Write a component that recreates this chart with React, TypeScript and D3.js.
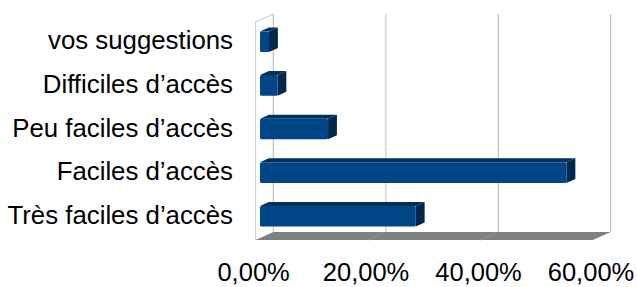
import * as d3 from "d3";

const categories = [
  "vos suggestions",
  "Difficiles d’accès",
  "Peu faciles d’accès",
  "Faciles d’accès",
  "Très faciles d’accès",
];
const values = [0.016, 0.031, 0.121, 0.545, 0.277];
const ticks = [0, 0.2, 0.4, 0.6];

const W = 637;
const H = 287;
// back wall
const BACK = { left: 273.3, right: 610.7, top: 14, bottom: 232 };
// offset from back plane to front plane
const DEPTH = { dx: -17.7, dy: 8 };
const BAR_H = 20.6;
const FONT = "'Liberation Sans', Arial, sans-serif";

const fmt = (v: number) => (v * 100).toFixed(2).replace(".", ",") + "%";

const App = () => {
  const xScale = d3.scaleLinear().domain([0, 0.6]).range([BACK.left, BACK.right]);
  const yScale = d3
    .scaleBand<string>()
    .domain(categories)
    .range([BACK.top, BACK.bottom])
    .padding(0);

  // bar front face sits a quarter of the way in, back face three quarters
  const fx = DEPTH.dx * 0.75;
  const fy = DEPTH.dy * 0.75;
  const bdx = -DEPTH.dx * 0.5; // bar depth
  const bdy = -DEPTH.dy * 0.5;

  const floor = [
    [BACK.left, BACK.bottom],
    [BACK.right, BACK.bottom],
    [BACK.right + DEPTH.dx, BACK.bottom + DEPTH.dy],
    [BACK.left + DEPTH.dx, BACK.bottom + DEPTH.dy],
  ];

  const bars = categories.map((c, i) => {
    const cy = (yScale(c) ?? 0) + yScale.bandwidth() / 2 + fy;
    const x1 = xScale(0) + fx;
    const x2 = xScale(values[i]) + fx;
    const y1 = cy - BAR_H / 2;
    const y2 = cy + BAR_H / 2;
    const top = [
      [x1, y1],
      [x1 + bdx, y1 + bdy],
      [x2 + bdx, y1 + bdy],
      [x2, y1],
    ];
    const side = [
      [x2, y1],
      [x2 + bdx, y1 + bdy],
      [x2 + bdx, y2 + bdy],
      [x2, y2],
    ];
    return (
      <g key={c}>
        <polygon points={top.join(" ")} fill="#00305c" />
        <polygon points={side.join(" ")} fill="#00284e" />
        <rect x={x1} y={y1} width={x2 - x1} height={BAR_H} rx={1.5} fill="#004586" />
      </g>
    );
  });

  return (
    <svg width={W} height={H} style={{ position: "absolute", left: 0, top: 0 }}>
      <rect width={W} height={H} fill="#fff" />
      {/* left wall */}
      <polyline
        points={[
          [BACK.left, BACK.top],
          [BACK.left + DEPTH.dx, BACK.top + DEPTH.dy],
          [BACK.left + DEPTH.dx, BACK.bottom + DEPTH.dy],
        ].join(" ")}
        fill="none"
        stroke="#c8c8c8"
        strokeWidth={1}
      />
      {/* back wall grid */}
      {ticks.map((t, i) => (
        <line
          key={t}
          x1={xScale(t)}
          x2={xScale(t)}
          y1={BACK.top}
          y2={BACK.bottom}
          stroke={i === 1 ? "#d4d4d4" : "#b3b3b3"}
          strokeWidth={i === 1 ? 1.6 : 1}
        />
      ))}
      {/* floor */}
      <polygon points={floor.join(" ")} fill="#808080" />
      {ticks.slice(1, 3).map((t) => (
        <line
          key={t}
          x1={xScale(t)}
          y1={BACK.bottom}
          x2={xScale(t) + DEPTH.dx}
          y2={BACK.bottom + DEPTH.dy}
          stroke="#909090"
          strokeWidth={1}
        />
      ))}
      {bars}
      {/* category labels */}
      {categories.map((c) => (
        <text
          key={c}
          x={233}
          y={(yScale(c) ?? 0) + yScale.bandwidth() / 2 + fy + 7.5}
          textAnchor="end"
          fontFamily={FONT}
          fontSize={25.8}
          fill="#000"
        >
          {c}
        </text>
      ))}
      {/* tick labels */}
      {ticks.map((t) => (
        <text
          key={t}
          x={xScale(t) + DEPTH.dx - 2}
          y={281}
          textAnchor="middle"
          fontFamily={FONT}
          fontSize={25.5}
          fill="#000"
        >
          {fmt(t)}
        </text>
      ))}
    </svg>
  );
};

export default App;
